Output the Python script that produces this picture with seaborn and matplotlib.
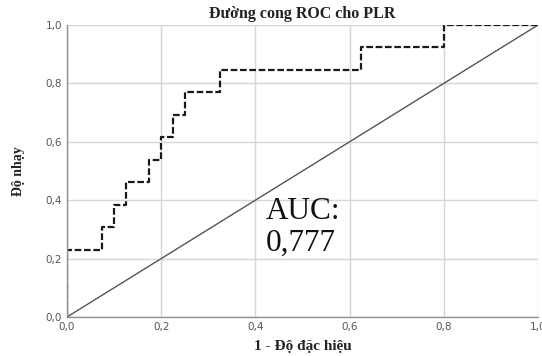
import matplotlib

matplotlib.use("Agg")

import matplotlib.pyplot as plt  # noqa: E402
import pandas as pd  # noqa: E402
import seaborn as sns  # noqa: E402
from matplotlib.ticker import FuncFormatter  # noqa: E402

# Toạ độ các góc của đường ROC
fpr = [0.0, 0.0, 0.075, 0.075, 0.1, 0.1, 0.125, 0.125, 0.175, 0.175,
       0.2, 0.2, 0.225, 0.225, 0.25, 0.25, 0.325, 0.325, 0.625, 0.625,
       0.8, 0.8, 1.0]
tpr = [0.0, 0.231, 0.231, 0.308, 0.308, 0.385, 0.385, 0.462, 0.462, 0.538,
       0.538, 0.615, 0.615, 0.692, 0.692, 0.769, 0.769, 0.846, 0.846, 0.923,
       0.923, 1.0, 1.0]
ref_x = [0.0, 1.0]
ref_y = [0.0, 1.0]
ticks = [0.0, 0.2, 0.4, 0.6, 0.8, 1.0]
auc_text = "AUC:\n0,777"

SERIF = "Liberation Serif"
GRID = "#d6d6d6"

sns.set_style("whitegrid")
plt.rcParams["font.family"] = ["DejaVu Sans"]

fig = plt.figure(figsize=(5.42, 3.56), dpi=100)
ax = fig.add_axes([0.1236, 0.1096, 0.869, 0.8202])

roc = pd.DataFrame({"x": fpr, "y": tpr})
diag = pd.DataFrame({"x": ref_x, "y": ref_y})

sns.lineplot(data=diag, x="x", y="y", ax=ax, color="#555555",
             linewidth=1.0, estimator=None, sort=False)
sns.lineplot(data=roc, x="x", y="y", ax=ax, color="#1a1a1a",
             linewidth=1.6, estimator=None, sort=False,
             dashes=False, linestyle=(0, (3, 1.2)))

ax.set_xlim(0, 1)
ax.set_ylim(0, 1)
ax.set_xticks(ticks)
ax.set_yticks(ticks)
fmt = FuncFormatter(lambda v, _: f"{v:.1f}".replace(".", ","))
ax.xaxis.set_major_formatter(fmt)
ax.yaxis.set_major_formatter(fmt)
ax.tick_params(labelsize=7.5, colors="#555555", length=0, pad=3.5)
ax.grid(True, color=GRID, linewidth=1.0)
for side in ("top", "right"):
    ax.spines[side].set_visible(False)
for side in ("left", "bottom"):
    ax.spines[side].set_color("#8f8f8f")
    ax.spines[side].set_linewidth(1.0)

ax.set_xlabel("1 - Độ đặc hiệu", family=SERIF, fontweight="bold",
              fontsize=11, color="#222222", labelpad=6)
ax.set_ylabel("Độ nhạy", family=SERIF, fontweight="bold",
              fontsize=10, color="#222222", labelpad=15)
ax.set_title("Đường cong ROC cho PLR", family=SERIF, fontweight="bold",
             fontsize=11.5, color="#222222", pad=5)

ax.text(0.422, 0.41, auc_text, family=SERIF, fontsize=22.5, color="#111111",
        ha="left", va="top", linespacing=1.12)

fig.savefig("out.png", dpi=100)
plt.close(fig)
